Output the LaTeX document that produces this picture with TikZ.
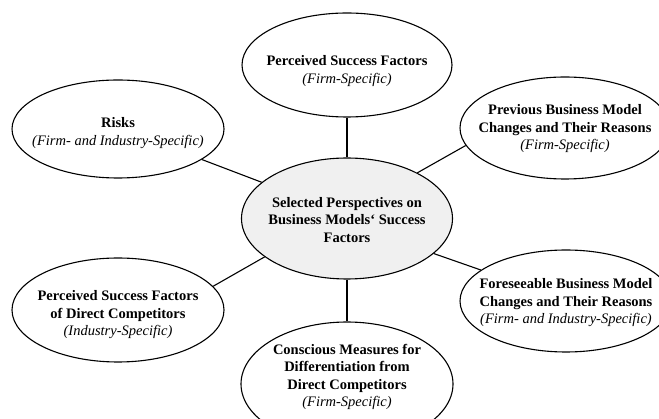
\documentclass[tikz,border=0pt]{standalone}
\usepackage{fontspec}
\setmainfont{Liberation Serif}
\usetikzlibrary{shapes.geometric}
\definecolor{hubgray}{RGB}{240,240,240}

\begin{document}
\begin{tikzpicture}[x=1pt,y=1pt,yscale=-1,xscale=1,
  bubble/.style={draw, line width=1.1pt, ellipse, inner sep=0pt},
  hub/.style={bubble, fill=hubgray},
  bubbletext/.style={align=center, inner sep=0.75pt, font=\fontsize{14.5}{17.5}\selectfont},
  spoke/.style={line width=1.1pt}]
\useasboundingbox (0,0) rectangle (659,419);

%Shape: Ellipse (centre)
\node [hub, minimum width=211pt, minimum height=121pt] (sel) at (347,218.5) {};
%Shape: Ellipse
\node [bubble, minimum width=210pt, minimum height=104pt] (psf) at (347,65) {};
%Shape: Ellipse
\node [bubble, minimum width=210pt, minimum height=102pt] (prev) at (565,128) {};
%Shape: Ellipse
\node [bubble, minimum width=212pt, minimum height=102pt] (fore) at (566,301) {};
%Shape: Ellipse
\node [bubble, minimum width=212pt, minimum height=124pt] (diff) at (347,384) {};
%Shape: Ellipse
\node [bubble, minimum width=212pt, minimum height=104pt] (comp) at (118,310) {};
%Shape: Ellipse
\node [bubble, minimum width=212pt, minimum height=98pt] (risk) at (118,129) {};

%Straight Lines
\draw [spoke] (sel.90) -- (psf.270);
%Straight Lines
\draw [spoke] (sel.33) -- (prev.190);
%Straight Lines
\draw [spoke] (sel.338) -- (fore.160);
%Straight Lines
\draw [spoke] (sel.270) -- (diff.90);
%Straight Lines
\draw [spoke] (sel.205) -- (comp.14);
%Straight Lines
\draw [spoke] (sel.157) -- (risk.340);

% Text Node
\node [bubbletext] (sel-t) at (347,220) {\textbf{Selected Perspectives on}\\\textbf{Business Models‘ Success}\\\textbf{Factors}};
% Text Node
\node [bubbletext] (psf-t) at (347,71) {\textbf{Perceived Success Factors}\\\textit{(Firm-Specific)}};
% Text Node
\node [bubbletext] (prev-t) at (565,129) {\textbf{Previous Business Model}\\\textbf{Changes and Their Reasons}\\\textit{(Firm-Specific)}};
% Text Node
\node [bubbletext] (fore-t) at (566,303) {\textbf{Foreseeable Business Model}\\\textbf{Changes and Their Reasons}\\\textit{(Firm- and Industry-Specific)}};
% Text Node
\node [bubbletext] (diff-t) at (347,377) {\textbf{Conscious Measures for}\\\textbf{Differentiation from}\\\textbf{Direct Competitors}\\\textit{(Firm-Specific)}};
% Text Node
\node [bubbletext] (comp-t) at (118,315) {\textbf{Perceived Success Factors}\\\textbf{of Direct Competitors}\\\textit{(Industry-Specific)}};
% Text Node
\node [bubbletext] (risk-t) at (118,133) {\textbf{Risks}\\\textit{(Firm- and Industry-Specific)}};

\end{tikzpicture}
\end{document}
